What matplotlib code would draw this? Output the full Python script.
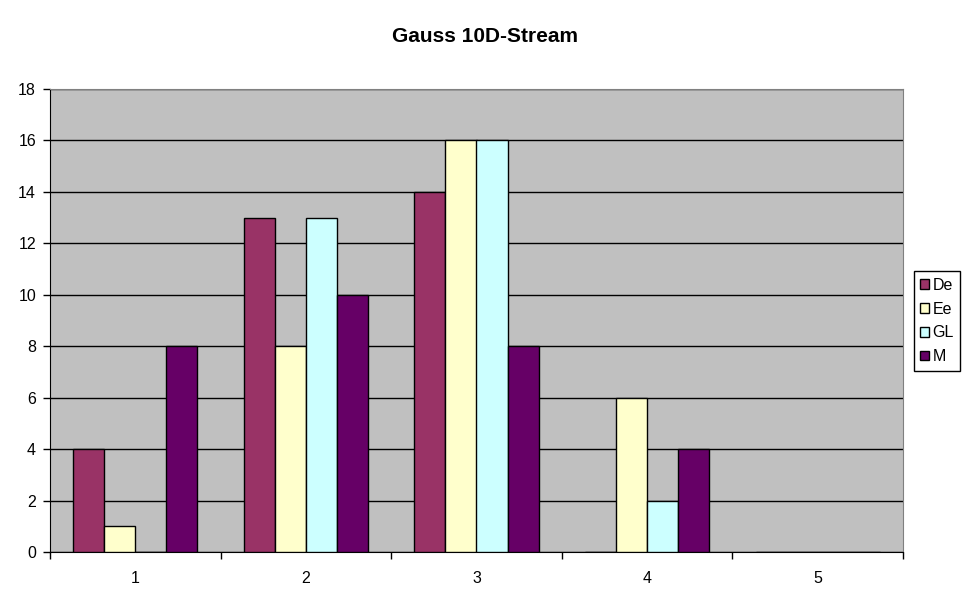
import matplotlib.pyplot as plt
import numpy as np

plt.rcParams['font.family'] = ['Liberation Sans', 'DejaVu Sans']

categories = ['1', '2', '3', '4', '5']
series_names = ['De', 'Ee', 'GL', 'M']
de = [4, 13, 14, 0, 0]
ee = [1, 8, 16, 6, 0]
gl = [0, 13, 16, 2, 0]
m = [8, 10, 8, 4, 0]
colors = ['#993366', '#FFFFCC', '#CCFFFF', '#660066']

fig = plt.figure(figsize=(9.7, 6.04), dpi=100)
ax = fig.add_axes([50 / 970, 52 / 604, 853 / 970, 463 / 604])
ax.set_facecolor('#C0C0C0')

x = np.arange(1, len(categories) + 1)
w = 1 / 5.5
for i, (name, vals) in enumerate(zip(series_names, [de, ee, gl, m])):
    ax.bar(x + (i - 1.5) * w, vals, w, color=colors[i], edgecolor='black',
           linewidth=1, label=name, zorder=3)

ax.set_xlim(0.5, 5.5)
ax.set_ylim(0, 18)
ax.set_yticks(range(0, 19, 2))
ax.yaxis.grid(True, color='black', linewidth=1, zorder=1)
ax.set_axisbelow(True)

# category ticks sit between groups, labels in the middle
ax.set_xticks(np.arange(0.5, 6, 1))
ax.set_xticklabels([])
ax.set_xticks(x, minor=True)
ax.set_xticklabels(categories, minor=True)
ax.tick_params(axis='x', which='minor', length=0, pad=14, labelsize=11.5)
ax.tick_params(axis='x', which='major', length=5, width=1, direction='out')
ax.tick_params(axis='y', length=5, width=1, direction='out', labelsize=11.5, pad=5)

for s in ['top', 'right']:
    ax.spines[s].set_color('#808080')
ax.spines['left'].set_color('black')
ax.spines['bottom'].set_color('black')

fig.suptitle('Gauss 10D-Stream', x=485 / 970, y=1 - 37 / 604, va='center',
             fontsize=15, fontweight='bold')

leg = fig.legend(loc='center left', bbox_to_anchor=(914 / 970, 1 - 321 / 604),
                 fancybox=False, edgecolor='black', framealpha=1,
                 handlelength=0.55, handleheight=0.55, handletextpad=0.2,
                 borderpad=0.4, labelspacing=0.55, fontsize=11.5, borderaxespad=0)
leg.get_frame().set_linewidth(1)

plt.savefig('out.png', dpi=100)
